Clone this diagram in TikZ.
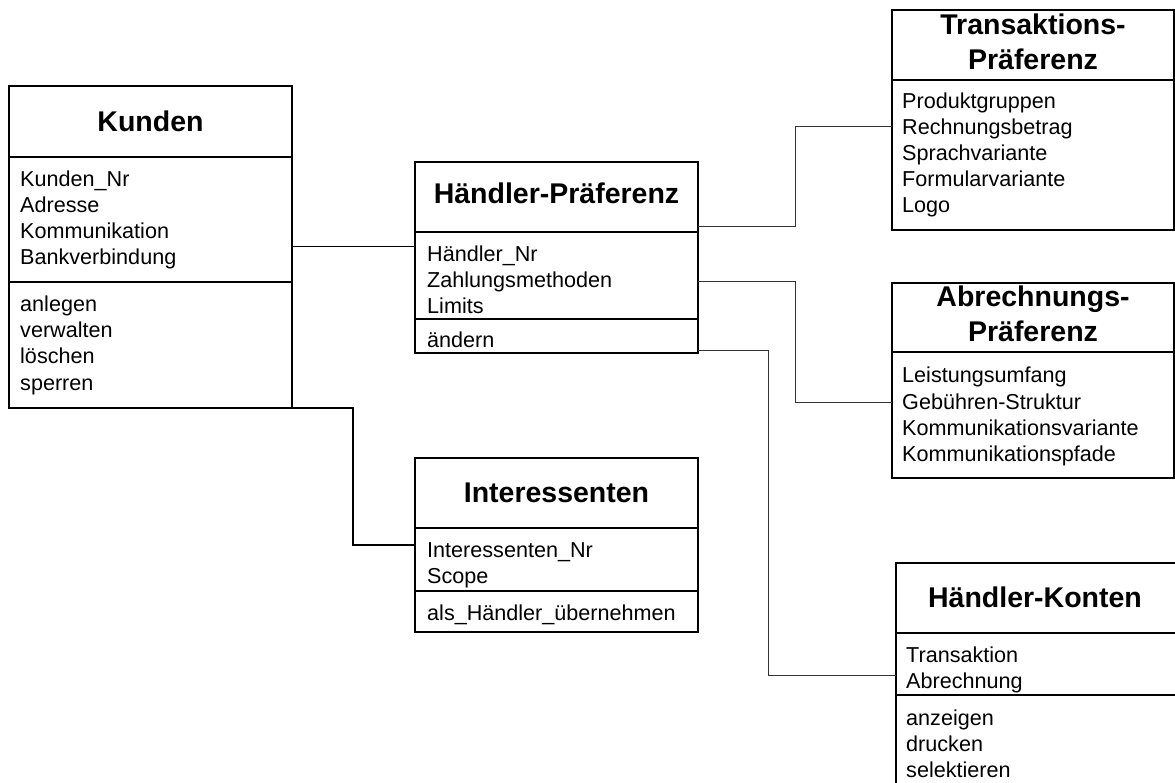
\documentclass[tikz,border=0pt]{standalone}
\usepackage{fontspec}
\setmainfont{Liberation Sans}
\usetikzlibrary{calc}
\begin{document}
\begin{tikzpicture}[x=1pt,y=-1pt,
  comp/.style={draw, line width=1.8pt, inner sep=0pt, outer sep=0pt, anchor=north west},
  ttl/.style={font=\fontsize{28.5}{35}\selectfont\bfseries, inner sep=0pt, anchor=base},
  txt/.style={font=\fontsize{21.6}{26}\selectfont, anchor=base west, inner sep=0pt},
  link/.style={line width=1pt, draw=black!80},
  mainlink/.style={line width=1.4pt, draw=black},
]
\useasboundingbox (0,0) rectangle (1175,783);
\clip (0,0) rectangle (1175,783);

% compartment: name, left, top, width, height
\newcommand{\umlcomp}[5]{\node[comp, minimum width=#4pt, minimum height=#5pt] (#1) at (#2,#3) {};}
% list of entries: name prefix, left, first baseline, entries (26pt apart)
\newcommand{\umllines}[4]{%
  \foreach \entry [count=\k] in {#4}
    \node[txt] (#1-\k) at (#2,{#3+26*(\k-1)}) {\entry};}

% Kunden
\umlcomp{kunden-t}{9}{86}{283}{71}
\umlcomp{kunden-a}{9}{157}{283}{125}
\umlcomp{kunden-o}{9}{282}{283}{126}
\node[ttl] (kunden-n) at (150.5,132) {Kunden};
\umllines{kunden-at}{20}{187}{Kunden\_Nr,Adresse,Kommunikation,Bankverbindung}
\umllines{kunden-op}{20}{312}{anlegen,verwalten,löschen,sperren}

% Haendler-Praeferenz
\umlcomp{hp-t}{415}{162}{283}{70}
\umlcomp{hp-a}{415}{232}{283}{87}
\umlcomp{hp-o}{415}{319}{283}{34}
\node[ttl] (hp-n) at (556.5,204) {Händler-Präferenz};
\umllines{hp-at}{427}{262}{Händler\_Nr,Zahlungsmethoden,Limits}
\umllines{hp-op}{427}{348}{ändern}

% Transaktions-Praeferenz
\umlcomp{tp-t}{892}{10}{282}{70}
\umlcomp{tp-a}{892}{80}{282}{150}
\node[ttl] (tp-n1) at (1033,35) {Transaktions-};
\node[ttl] (tp-n2) at (1033,70) {Präferenz};
\umllines{tp-at}{902}{109}{Produktgruppen,Rechnungsbetrag,Sprachvariante,Formularvariante,Logo}

% Abrechnungs-Praeferenz
\umlcomp{ap-t}{892}{283}{282}{69}
\umlcomp{ap-a}{892}{352}{282}{126}
\node[ttl] (ap-n1) at (1033,307) {Abrechnungs-};
\node[ttl] (ap-n2) at (1033,342) {Präferenz};
\umllines{ap-at}{902}{383}{Leistungsumfang,Gebühren-Struktur,Kommunikationsvariante,Kommunikationspfade}

% Interessenten
\umlcomp{in-t}{415}{458}{283}{70}
\umlcomp{in-a}{415}{528}{283}{63}
\umlcomp{in-o}{415}{591}{283}{41}
\node[ttl] (in-n) at (556.5,502) {Interessenten};
\umllines{in-at}{427}{557}{Interessenten\_Nr,Scope}
\umllines{in-op}{427}{620}{als\_Händler\_übernehmen}

% Haendler-Konten
\umlcomp{hk-t}{896}{563}{280}{70}
\umlcomp{hk-a}{896}{633}{280}{62}
\umlcomp{hk-o}{896}{695}{280}{120}
\node[ttl] (hk-n) at (1035,607) {Händler-Konten};
\umllines{hk-at}{906}{662}{Transaktion,Abrechnung}
\umllines{hk-op}{906}{725}{anzeigen,drucken,selektieren}

% connectors
\coordinate (j-tp) at (795,127);
\coordinate (j-ap) at (795,402);
\coordinate (j-hk) at (768,675);
\coordinate (j-in) at (353,545);

\draw[mainlink] (kunden-a.east |- 0,246.5) -- (hp-a.west |- 0,246.5);
\draw[mainlink] (kunden-o.south east) -| (j-in) -- (in-a.west |- j-in);
\draw[link] (hp-t.east |- 0,227) -| (j-tp) -- (tp-a.west |- j-tp);
\draw[link] (hp-a.east |- 0,282) -| (j-ap) -- (ap-a.west |- j-ap);
\draw[link] (hp-o.east |- 0,351) -| (j-hk) -- (hk-a.west |- j-hk);
\end{tikzpicture}
\end{document}
